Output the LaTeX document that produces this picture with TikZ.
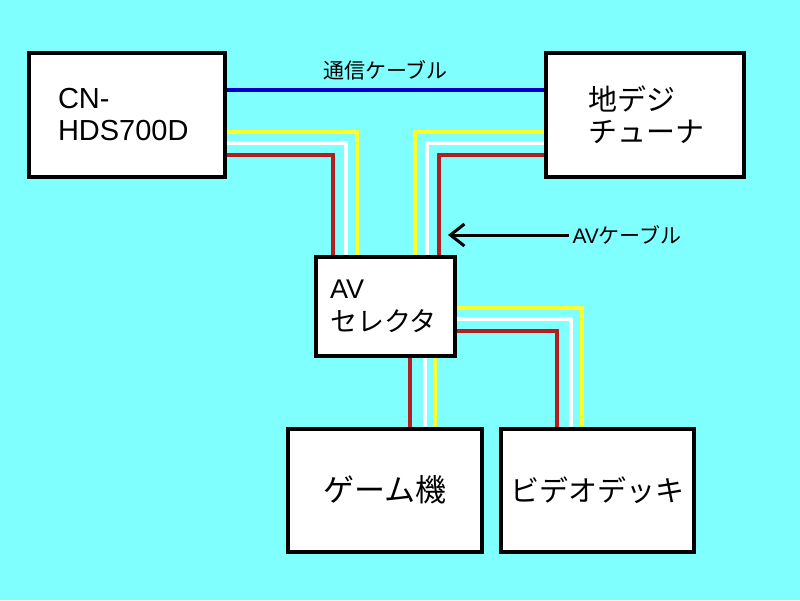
\documentclass[tikz,border=0pt]{standalone}
\usepackage{fontspec}
\setmainfont{Liberation Sans}
\newfontfamily\jp{Noto Sans CJK JP}
\usepackage{tikz}
\usetikzlibrary{arrows.meta,backgrounds}
\definecolor{bgcyan}{RGB}{128,255,255}
\definecolor{cblyellow}{RGB}{255,255,40}
\definecolor{cblred}{RGB}{180,30,30}
\definecolor{cblblue}{RGB}{0,0,200}
\tikzset{
  unit/.style={draw=black, line width=4pt, fill=white, align=left, font=\fontsize{29}{32}\selectfont},
  smalllabel/.style={font=\fontsize{21}{24}\selectfont},
  ylwcable/.style={draw=cblyellow, line width=4pt},
  whtcable/.style={draw=white, line width=4pt},
  redcable/.style={draw=cblred, line width=4pt},
  commcable/.style={draw=cblblue, line width=3.5pt},
  pointer/.style={draw=black, line width=3pt, -{Straight Barb[length=14pt,width=22pt]}}
}

\begin{document}
\begin{tikzpicture}[x=1pt,y=-1pt]
\useasboundingbox (0,0) rectangle (800,600);
\node[unit, minimum width=196pt, minimum height=124pt, text width=138pt, inner xsep=29pt] (cn) at (127,115) {CN-\\HDS700D};
\node[unit, minimum width=198pt, minimum height=124pt, text width=114pt, inner xsep=42pt] (tuner) at (645,115) {\jp 地デジ\\チューナ};
\node[unit, minimum width=139pt, minimum height=99pt, text width=111pt, inner xsep=14pt, font=\fontsize{27}{33}\selectfont] (av) at (385.5,306.5) {AV\\{\jp セレクタ}};
\node[unit, minimum width=194pt, minimum height=123pt, align=center, font=\fontsize{31}{34}\selectfont] (game) at (385,490) {\jp ゲーム機};
\node[unit, minimum width=193pt, minimum height=123pt, align=center] (video) at (597.5,490) {\jp ビデオデッキ};
\begin{scope}[on background layer]
\fill[bgcyan] (0,0) rectangle (800,600);
\draw[ylwcable] ([yshift=-17pt]cn.east) -| ([xshift=-28.5pt]av.north);
\draw[whtcable] ([yshift=-28pt]cn.east) -| ([xshift=-39.5pt]av.north);
\draw[redcable] ([yshift=-40pt]cn.east) -| ([xshift=-52.5pt]av.north);
\draw[ylwcable] ([yshift=-17pt]tuner.west) -| ([xshift=29.5pt]av.north);
\draw[whtcable] ([yshift=-28pt]tuner.west) -| ([xshift=41.5pt]av.north);
\draw[redcable] ([yshift=-40pt]tuner.west) -| ([xshift=53.5pt]av.north);
\draw[ylwcable] ([yshift=-1.5pt]av.east) -| ([xshift=-15.5pt]video.north);
\draw[whtcable] ([yshift=-12.5pt]av.east) -| ([xshift=-26.5pt]video.north);
\draw[redcable] ([yshift=-24.5pt]av.east) -| ([xshift=-40.5pt]video.north);
\draw[redcable] ([xshift=24.5pt]av.south) -- ([xshift=24.5pt]av.south |- game.north);
\draw[whtcable] ([xshift=39.5pt]av.south) -- ([xshift=39.5pt]av.south |- game.north);
\draw[ylwcable] ([xshift=49.5pt]av.south) -- ([xshift=49.5pt]av.south |- game.north);
\end{scope}
\draw[commcable] ([yshift=25pt]cn.east) -- node[smalllabel, above=5pt] (commlbl) {\jp 通信ケーブル} ([yshift=25pt]tuner.west);
\node[smalllabel, anchor=west] (avlbl) at (569,235) {AV{\jp ケーブル}};
\coordinate (avtip) at (448,235);
\draw[pointer] (avlbl.west) -- (avtip);
\end{tikzpicture}
\end{document}
